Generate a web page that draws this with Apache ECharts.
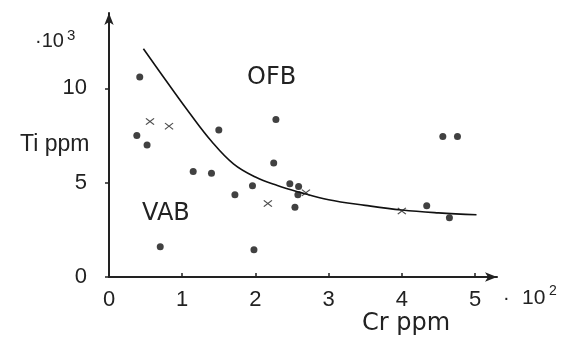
<!DOCTYPE html>
<html>
<head>
<meta charset="utf-8">
<script src="https://cdn.jsdelivr.net/npm/echarts@6/dist/echarts.min.js"></script>
<style>
  html, body { margin: 0; padding: 0; background: #fff; }
  #chart { width: 561px; height: 352px; }
</style>
</head>
<body>
<div id="chart"></div>
<script>
// Cr (x 10^2 ppm) vs Ti (x 10^3 ppm)
const dots = [
  [0.42, 10.6], [0.38, 7.5], [0.52, 7.0], [1.5, 7.8], [1.15, 5.6], [1.4, 5.5],
  [1.72, 4.36], [1.96, 4.84], [2.28, 8.35], [2.25, 6.05], [2.47, 4.95], [2.59, 4.8],
  [2.58, 4.36], [2.54, 3.7], [0.7, 1.6], [1.98, 1.44], [4.34, 3.78], [4.65, 3.14],
  [4.56, 7.45], [4.76, 7.45]
];
const crosses = [
  [0.56, 8.25], [0.82, 8.0], [2.17, 3.9], [4.0, 3.5], [2.69, 4.47]
];
const boundary = [
  [0.47, 12.1], [0.8, 10.3], [1.1, 8.7], [1.4, 7.2], [1.7, 6.0], [2.0, 5.3],
  [2.3, 4.85], [2.6, 4.5], [3.0, 4.1], [3.5, 3.8], [4.0, 3.55], [4.5, 3.4],
  [5.02, 3.3]
];
const xTicks = [0, 1, 2, 3, 4, 5];
const yTicks = [0, 5, 10];

const font = 'Liberation Sans, Arial, sans-serif';
const wordFont = 'DejaVu Sans, sans-serif';
const ink = '#222';
const crossPath = 'path://M0,1L1,0L5,4L9,0L10,1L6,5L10,9L9,10L5,6L1,10L0,9L4,5Z';

const chart = echarts.init(document.getElementById('chart'));
chart.setOption({
  backgroundColor: '#fff',
  animation: false,
  grid: { left: 109, right: 64, top: 13, bottom: 75 },
  xAxis: {
    type: 'value', min: 0, max: 5.3, interval: 1,
    splitLine: { show: false },
    axisLine: { lineStyle: { color: ink, width: 2 }, symbol: ['none', 'arrow'], symbolSize: [7, 12] },
    axisTick: { length: 4, inside: true, customValues: xTicks, lineStyle: { color: ink, width: 1.5 } },
    axisLabel: {
      customValues: xTicks, margin: 12, color: ink, fontFamily: font, fontSize: 22,
      formatter: v => (xTicks.includes(v) ? String(v) : '')
    }
  },
  yAxis: {
    type: 'value', min: 0, max: 14, interval: 5,
    splitLine: { show: false },
    axisLine: { lineStyle: { color: ink, width: 2 }, symbol: ['none', 'arrow'], symbolSize: [7, 12] },
    axisTick: { length: 4, customValues: yTicks, lineStyle: { color: ink, width: 1.5 } },
    axisLabel: {
      customValues: yTicks, margin: 22, color: ink, fontFamily: font, fontSize: 22,
      formatter: v => (yTicks.includes(v) ? String(v) : '')
    }
  },
  series: [
    {
      type: 'line', data: boundary, smooth: 0.4, symbol: 'none',
      lineStyle: { color: '#111', width: 1.6 }, z: 2
    },
    {
      type: 'scatter', data: dots, symbol: 'circle', symbolSize: 7,
      itemStyle: { color: '#111' }, z: 3
    },
    {
      type: 'scatter', data: crosses, symbol: crossPath, symbolSize: [9, 7],
      itemStyle: { color: '#222' }, z: 3
    }
  ],
  graphic: [
    { type: 'text', left: 35, top: 31, style: { text: '·10', font: '20px ' + font, fill: ink } },
    { type: 'text', left: 67, top: 28, style: { text: '3', font: '15px ' + font, fill: ink } },
    { type: 'text', left: 20, top: 133, style: { text: 'Ti ppm', font: '23px ' + font, fill: ink } },
    { type: 'text', left: 247, top: 66, style: { text: 'OFB', font: '24px ' + wordFont, fill: ink } },
    { type: 'text', left: 142, top: 202, style: { text: 'VAB', font: '24px ' + wordFont, fill: ink } },
    { type: 'text', left: 362, top: 312, style: { text: 'Cr ppm', font: '24px ' + wordFont, fill: ink } },
    { type: 'text', left: 503, top: 288, style: { text: '·', font: '20px ' + font, fill: ink } },
    { type: 'text', left: 522, top: 288, style: { text: '10', font: '21px ' + font, fill: ink } },
    { type: 'text', left: 549, top: 284, style: { text: '2', font: '14px ' + font, fill: ink } }
  ]
});
</script>
</body>
</html>
